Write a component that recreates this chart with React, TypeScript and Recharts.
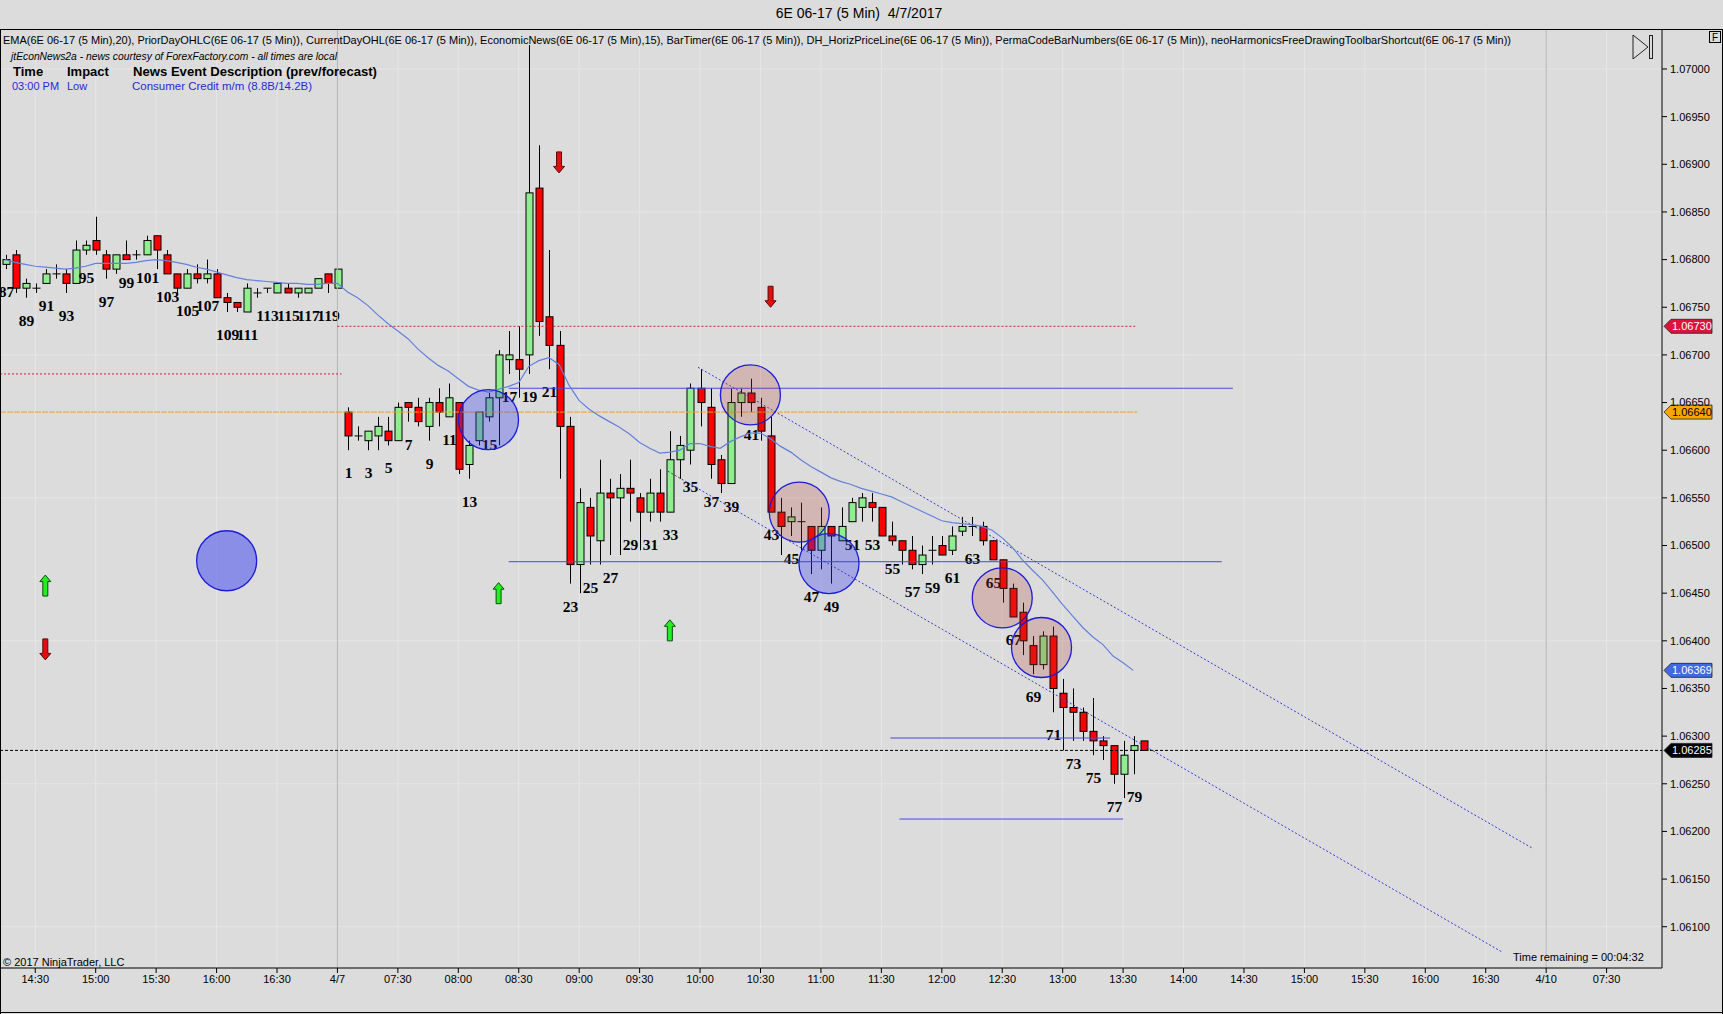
import React from 'react';
import {
  ComposedChart, Bar, Line, XAxis, YAxis, CartesianGrid,
  ReferenceLine, ReferenceDot, Scatter,
} from 'recharts';

// ---------------- data ----------------
const barNumbers = [
  87, 88, 89, 90, 91, 92, 93, 94, 95, 96, 97, 98, 99, 100, 101, 102, 103, 104, 105, 106,
  107, 108, 109, 110, 111, 112, 113, 114, 115, 116, 117, 118, 119, 120,
  1, 2, 3, 4, 5, 6, 7, 8, 9, 10, 11, 12, 13, 14, 15, 16, 17, 18, 19, 20,
  21, 22, 23, 24, 25, 26, 27, 28, 29, 30, 31, 32, 33, 34, 35, 36, 37, 38, 39, 40,
  41, 42, 43, 44, 45, 46, 47, 48, 49, 50, 51, 52, 53, 54, 55, 56, 57, 58, 59, 60,
  61, 62, 63, 64, 65, 66, 67, 68, 69, 70, 71, 72, 73, 74, 75, 76, 77, 78, 79, 80,
];

const opens = [
  1.06795, 1.06805, 1.06770, 1.06770, 1.06775, 1.06785, 1.06785, 1.06775, 1.06810, 1.06820,
  1.06805, 1.06790, 1.06805, 1.06805, 1.06805, 1.06825, 1.06805, 1.06785, 1.06770, 1.06785,
  1.06780, 1.06785, 1.06760, 1.06755, 1.06745, 1.06765, 1.06770, 1.06765, 1.06770, 1.06765,
  1.06765, 1.06770, 1.06785, 1.06770,
  1.06640, 1.06615, 1.06610, 1.06615, 1.06620, 1.06610, 1.06650, 1.06645, 1.06625, 1.06650,
  1.06635, 1.06650, 1.06585, 1.06610, 1.06635, 1.06655, 1.06695, 1.06695, 1.06700, 1.06875,
  1.06740, 1.06710, 1.06625, 1.06480, 1.06540, 1.06505, 1.06555, 1.06550, 1.06560, 1.06550,
  1.06535, 1.06555, 1.06535, 1.06590, 1.06600, 1.06665, 1.06645, 1.06590, 1.06565, 1.06650,
  1.06660, 1.06645, 1.06615, 1.06535, 1.06525, 1.06525, 1.06520, 1.06495, 1.06520, 1.06505,
  1.06525, 1.06540, 1.06545, 1.06540, 1.06510, 1.06505, 1.06495, 1.06480, 1.06495, 1.06500,
  1.06495, 1.06515, 1.06520, 1.06520, 1.06505, 1.06485, 1.06455, 1.06430, 1.06395, 1.06375,
  1.06405, 1.06345, 1.06330, 1.06325, 1.06305, 1.06295, 1.06290, 1.06260, 1.06285, 1.06295,
];

const highs = [
  1.06805, 1.06810, 1.06780, 1.06775, 1.06790, 1.06795, 1.06790, 1.06820, 1.06820, 1.06845,
  1.06810, 1.06805, 1.06820, 1.06810, 1.06825, 1.06825, 1.06810, 1.06785, 1.06790, 1.06795,
  1.06800, 1.06790, 1.06765, 1.06755, 1.06775, 1.06770, 1.06770, 1.06775, 1.06775, 1.06770,
  1.06770, 1.06780, 1.06785, 1.06790,
  1.06645, 1.06625, 1.06620, 1.06635, 1.06635, 1.06650, 1.06650, 1.06655, 1.06655, 1.06665,
  1.06670, 1.06650, 1.06610, 1.06640, 1.06660, 1.06705, 1.06725, 1.06730, 1.07025, 1.06920,
  1.06810, 1.06725, 1.06635, 1.06560, 1.06550, 1.06590, 1.06570, 1.06575, 1.06590, 1.06555,
  1.06570, 1.06580, 1.06620, 1.06615, 1.06670, 1.06685, 1.06665, 1.06595, 1.06665, 1.06665,
  1.06675, 1.06655, 1.06635, 1.06550, 1.06540, 1.06545, 1.06520, 1.06540, 1.06520, 1.06540,
  1.06550, 1.06555, 1.06555, 1.06540, 1.06525, 1.06505, 1.06510, 1.06500, 1.06510, 1.06510,
  1.06520, 1.06530, 1.06530, 1.06525, 1.06505, 1.06485, 1.06460, 1.06440, 1.06405, 1.06410,
  1.06415, 1.06360, 1.06350, 1.06330, 1.06340, 1.06300, 1.06290, 1.06295, 1.06300, 1.06295,
];

const lows = [
  1.06790, 1.06765, 1.06760, 1.06765, 1.06775, 1.06780, 1.06765, 1.06775, 1.06805, 1.06805,
  1.06780, 1.06785, 1.06800, 1.06800, 1.06805, 1.06790, 1.06785, 1.06765, 1.06770, 1.06775,
  1.06775, 1.06760, 1.06745, 1.06745, 1.06745, 1.06760, 1.06765, 1.06765, 1.06765, 1.06760,
  1.06765, 1.06770, 1.06765, 1.06770,
  1.06600, 1.06610, 1.06600, 1.06600, 1.06605, 1.06610, 1.06630, 1.06625, 1.06610, 1.06625,
  1.06635, 1.06575, 1.06570, 1.06605, 1.06630, 1.06605, 1.06680, 1.06655, 1.06680, 1.06720,
  1.06685, 1.06570, 1.06460, 1.06450, 1.06480, 1.06480, 1.06490, 1.06490, 1.06525, 1.06495,
  1.06525, 1.06525, 1.06535, 1.06570, 1.06585, 1.06625, 1.06570, 1.06555, 1.06565, 1.06635,
  1.06640, 1.06610, 1.06535, 1.06490, 1.06510, 1.06495, 1.06470, 1.06475, 1.06460, 1.06505,
  1.06525, 1.06525, 1.06525, 1.06510, 1.06500, 1.06480, 1.06475, 1.06470, 1.06480, 1.06490,
  1.06490, 1.06510, 1.06510, 1.06500, 1.06485, 1.06440, 1.06425, 1.06385, 1.06365, 1.06370,
  1.06325, 1.06285, 1.06295, 1.06295, 1.06280, 1.06275, 1.06250, 1.06235, 1.06260, 1.06285,
];

const closes = [
  1.06800, 1.06770, 1.06775, 1.06770, 1.06785, 1.06785, 1.06775, 1.06810, 1.06815, 1.06810,
  1.06790, 1.06805, 1.06800, 1.06805, 1.06820, 1.06810, 1.06785, 1.06770, 1.06785, 1.06780,
  1.06785, 1.06760, 1.06755, 1.06750, 1.06770, 1.06765, 1.06770, 1.06775, 1.06765, 1.06770,
  1.06770, 1.06780, 1.06775, 1.06790,
  1.06615, 1.06615, 1.06620, 1.06625, 1.06610, 1.06645, 1.06645, 1.06630, 1.06650, 1.06640,
  1.06655, 1.06580, 1.06605, 1.06640, 1.06655, 1.06700, 1.06700, 1.06685, 1.06870, 1.06735,
  1.06710, 1.06625, 1.06480, 1.06545, 1.06510, 1.06555, 1.06550, 1.06560, 1.06555, 1.06535,
  1.06555, 1.06535, 1.06590, 1.06605, 1.06665, 1.06650, 1.06585, 1.06565, 1.06650, 1.06660,
  1.06650, 1.06620, 1.06535, 1.06520, 1.06530, 1.06525, 1.06495, 1.06520, 1.06510, 1.06520,
  1.06545, 1.06550, 1.06540, 1.06510, 1.06505, 1.06495, 1.06480, 1.06490, 1.06495, 1.06490,
  1.06510, 1.06520, 1.06520, 1.06505, 1.06485, 1.06455, 1.06425, 1.06400, 1.06375, 1.06405,
  1.06350, 1.06330, 1.06325, 1.06305, 1.06295, 1.06290, 1.06260, 1.06280, 1.06290, 1.06285,
];

const emaValues: (number | null)[] = [
  1.06800, 1.06797, 1.06795, 1.06793, 1.06792, 1.06791, 1.06790, 1.06791, 1.06793, 1.06796,
  1.06796, 1.06796, 1.06796, 1.06797, 1.06799, 1.06800, 1.06799, 1.06797, 1.06795, 1.06792,
  1.06790, 1.06787, 1.06784, 1.06781, 1.06779, 1.06778, 1.06777, 1.06776, 1.06775, 1.06775,
  1.06774, 1.06774, 1.06775, 1.06775,
  1.06766, 1.06760, 1.06752, 1.06742, 1.06733, 1.06725, 1.06717, 1.06706, 1.06697, 1.06689,
  1.06683, 1.06675, 1.06667, 1.06663, 1.06661, 1.06664, 1.06667, 1.06671, 1.06688, 1.06694,
  1.06697, 1.06690, 1.06668, 1.06652, 1.06643, 1.06636, 1.06630, 1.06624, 1.06617, 1.06608,
  1.06602, 1.06597, 1.06598, 1.06600, 1.06607, 1.06607, 1.06604, 1.06602, 1.06609, 1.06614,
  1.06618, 1.06618, 1.06612, 1.06604, 1.06598, 1.06590, 1.06583, 1.06577, 1.06571, 1.06567,
  1.06564, 1.06560, 1.06557, 1.06554, 1.06551, 1.06546, 1.06541, 1.06536, 1.06531, 1.06526,
  1.06524, 1.06523, 1.06522, 1.06520, 1.06516, 1.06508, 1.06498, 1.06485, 1.06474, 1.06464,
  1.06451, 1.06438, 1.06426, 1.06414, 1.06404, 1.06396, 1.06384, 1.06377, 1.06369, null,
];

const xTickSlots = [3, 9, 15, 21, 27, 33, 39, 45, 51, 57, 63, 69, 75, 81, 87, 93, 99, 105, 111, 117, 123, 129, 135, 141, 147, 153, 159];
const xTickLabels = ['14:30', '15:00', '15:30', '16:00', '16:30', '4/7', '07:30', '08:00', '08:30', '09:00', '09:30', '10:00', '10:30', '11:00', '11:30', '12:00', '12:30', '13:00', '13:30', '14:00', '14:30', '15:00', '15:30', '16:00', '16:30', '4/10', '07:30'];
const yTickValues = [1.061, 1.0615, 1.062, 1.0625, 1.063, 1.0635, 1.064, 1.0645, 1.065, 1.0655, 1.066, 1.0665, 1.067, 1.0675, 1.068, 1.0685, 1.069, 1.0695, 1.07];
const gridPrices = [1.061, 1.0625, 1.064, 1.0655, 1.067, 1.0685, 1.07];
const daySeparators = [33, 153];

const levelLines = [
  { kind: 'prior', from: -0.5, to: 33.4, price: 1.0668 },
  { kind: 'prior', from: 33, to: 112.2, price: 1.0673 },
  { kind: 'open', from: -0.5, to: 112.4, price: 1.0664 },
  { kind: 'horiz', from: 50, to: 121.9, price: 1.06665 },
  { kind: 'horiz', from: 50, to: 120.8, price: 1.06483 },
  { kind: 'horiz', from: 87.9, to: 109.7, price: 1.06298 },
  { kind: 'horiz', from: 88.8, to: 111, price: 1.06213 },
  { kind: 'last', from: -0.5, to: 164.5, price: 1.06285 },
];

const channelLines = [
  { from: 68.8, fromPrice: 1.06687, to: 151.7, toPrice: 1.06182 },
  { from: 65.8, fromPrice: 1.06578, to: 148.7, toPrice: 1.06073 },
];

const circleMarks = [
  { kind: 'blueSolo', slot: 22, price: 1.06484 },
  { kind: 'blue', slot: 48, price: 1.06632 },
  { kind: 'pink', slot: 74, price: 1.06658 },
  { kind: 'pink', slot: 78.85, price: 1.06535 },
  { kind: 'blue', slot: 81.8, price: 1.06481 },
  { kind: 'pink', slot: 99, price: 1.06445 },
  { kind: 'pink', slot: 102.9, price: 1.06393 },
];

const upArrows = [
  { slot: 4, price: 1.06458 },
  { slot: 49, price: 1.0645 },
  { slot: 66, price: 1.06411 },
];
const downArrows = [
  { slot: 4, price: 1.06391 },
  { slot: 55, price: 1.06902 },
  { slot: 76, price: 1.06761 },
];

const priceTags = [
  { kind: 'prior', price: 1.0673 },
  { kind: 'open', price: 1.0664 },
  { kind: 'ema', price: 1.06369 },
  { kind: 'last', price: 1.06285 },
];

const rows = barNumbers.map((num, i) => ({
  slot: i,
  num,
  open: opens[i],
  high: highs[i],
  low: lows[i],
  close: closes[i],
  range: [lows[i], highs[i]],
  ema: emaValues[i],
}));

// ---------------- styling ----------------
const W = 1723;
const H = 1014;
const BG = '#dcdcdc';
const SANS = "'Liberation Sans', Arial, sans-serif";
const SERIF = "'Liberation Serif', 'Times New Roman', serif";
const X_DOMAIN: [number, number] = [-0.5, 164.5];
const Y_DOMAIN: [number, number] = [1.060567, 1.070409];

const lineStyle: Record<string, { stroke: string; dash?: string; width: number }> = {
  prior: { stroke: '#d0203c', dash: '2 2', width: 1 },
  open: { stroke: '#f0a020', dash: '6 1', width: 1 },
  horiz: { stroke: '#4848e8', width: 1 },
  last: { stroke: '#000000', dash: '3 2', width: 1 },
};

const circleStyle: Record<string, { fill: string; opacity: number }> = {
  blueSolo: { fill: '#3038f0', opacity: 0.48 },
  blue: { fill: '#3038f0', opacity: 0.32 },
  pink: { fill: '#b04038', opacity: 0.24 },
};

const tagStyle: Record<string, { bg: string; fg: string }> = {
  prior: { bg: '#dc143c', fg: '#ffffff' },
  open: { bg: '#ffa500', fg: '#000000' },
  ema: { bg: '#4169e1', fg: '#ffffff' },
  last: { bg: '#000000', fg: '#ffffff' },
};

const Candle = (props: any) => {
  const { x, y, width, height, payload } = props;
  if (!payload || x == null || y == null) return <g />;
  const { open, high, low, close, num } = payload;
  const top = Math.min(y, y + height);
  const bot = Math.max(y, y + height);
  const span = high - low;
  const py = (p: number) => (span > 0 ? top + ((high - p) / span) * (bot - top) : top);
  const cx = Math.round(x + width / 2) + 0.5;
  const bTop = py(Math.max(open, close));
  const bBot = py(Math.min(open, close));
  const up = close >= open;
  return (
    <g>
      <line x1={cx} x2={cx} y1={top} y2={bot} stroke="#000" strokeWidth={1} />
      {open === close ? (
        <line x1={cx - 4} x2={cx + 4} y1={bTop} y2={bTop} stroke="#000" strokeWidth={1} />
      ) : (
        <rect x={cx - 3.5} y={bTop} width={7} height={Math.max(1, bBot - bTop)}
          fill={up ? '#90ee90' : '#ff0000'} stroke="#000" strokeWidth={1} />
      )}
      {num % 2 === 1 && (
        <text x={cx} y={bot + 28} textAnchor="middle" fontFamily={SERIF}
          fontWeight="bold" fontSize={15.5} fill="#000">{num}</text>
      )}
    </g>
  );
};

const UpArrow = (props: any) => {
  const { cx, cy } = props;
  if (cx == null) return <g />;
  const d = `M${cx},${cy - 10.5} L${cx + 5.5},${cy - 4} L${cx + 2.5},${cy - 4} L${cx + 2.5},${cy + 10.5} L${cx - 2.5},${cy + 10.5} L${cx - 2.5},${cy - 4} L${cx - 5.5},${cy - 4} Z`;
  return <path d={d} fill="#22ee22" stroke="#0b4d0b" strokeWidth={1} />;
};

const DownArrow = (props: any) => {
  const { cx, cy } = props;
  if (cx == null) return <g />;
  const d = `M${cx},${cy + 10.5} L${cx + 5.5},${cy + 4} L${cx + 2.5},${cy + 4} L${cx + 2.5},${cy - 10.5} L${cx - 2.5},${cy - 10.5} L${cx - 2.5},${cy + 4} L${cx - 5.5},${cy + 4} Z`;
  return <path d={d} fill="#e01010" stroke="#5a0a0a" strokeWidth={1} />;
};

const makeTag = (kind: string, price: number) => (props: any) => {
  const { cx, cy } = props;
  if (cx == null) return <g />;
  const s = tagStyle[kind];
  const d = `M${cx + 2},${cy} L${cx + 9},${cy - 7} L${cx + 50},${cy - 7} L${cx + 50},${cy + 7} L${cx + 9},${cy + 7} Z`;
  return (
    <g>
      <path d={d} fill={s.bg} stroke="#222" strokeWidth={0.8} />
      <text x={cx + 10} y={cy + 4} fontFamily={SANS} fontSize={11} fill={s.fg}>{price.toFixed(5)}</text>
    </g>
  );
};

export default function App() {
  return (
    <div style={{ position: 'relative', width: W, height: H, background: BG, overflow: 'hidden' }}>
      <style>{'body{margin:0;background:#dcdcdc;}'}</style>
      <ComposedChart
        width={W}
        height={H}
        data={rows}
        margin={{ top: 30, right: 0, bottom: 2, left: 0 }}
        style={{ position: 'absolute', left: 0, top: 0 }}
      >
        <CartesianGrid stroke="#e6e6e6" strokeWidth={1} horizontalValues={gridPrices} />
        <XAxis
          type="number"
          dataKey="slot"
          domain={X_DOMAIN}
          allowDataOverflow
          ticks={xTickSlots}
          interval={0}
          height={44}
          tickSize={5}
          tickMargin={2}
          axisLine={{ stroke: '#000' }}
          tickLine={{ stroke: '#000' }}
          tick={{ fill: '#000', fontSize: 11, fontFamily: SANS }}
          tickFormatter={(v: number) => xTickLabels[xTickSlots.indexOf(v)] ?? ''}
        />
        <YAxis
          orientation="right"
          type="number"
          domain={Y_DOMAIN}
          allowDataOverflow
          ticks={yTickValues}
          interval={0}
          width={61}
          tickSize={5}
          tickMargin={3}
          axisLine={{ stroke: '#000' }}
          tickLine={{ stroke: '#000' }}
          tick={{ fill: '#000', fontSize: 11, fontFamily: SANS, textAnchor: 'start' }}
          tickFormatter={(v: number) => v.toFixed(5)}
        />
        {daySeparators.map((s) => (
          <ReferenceLine key={'sep' + s} x={s} stroke="#b4b4b4" strokeWidth={1} ifOverflow="visible" />
        ))}
        {levelLines.map((l, i) => (
          <ReferenceLine
            key={'lvl' + i}
            segment={[{ x: l.from, y: l.price }, { x: l.to, y: l.price }]}
            stroke={lineStyle[l.kind].stroke}
            strokeDasharray={lineStyle[l.kind].dash}
            strokeWidth={lineStyle[l.kind].width}
            ifOverflow="visible"
          />
        ))}
        {channelLines.map((c, i) => (
          <ReferenceLine
            key={'ch' + i}
            segment={[{ x: c.from, y: c.fromPrice }, { x: c.to, y: c.toPrice }]}
            stroke="#3a3ae0"
            strokeDasharray="2 2"
            strokeWidth={1}
            ifOverflow="visible"
          />
        ))}
        <Bar dataKey="range" barSize={7} shape={Candle} isAnimationActive={false} />
        <Line
          dataKey="ema"
          type="linear"
          stroke="#6480dc"
          strokeWidth={1.2}
          dot={false}
          activeDot={false}
          isAnimationActive={false}
        />
        {circleMarks.map((c, i) => (
          <ReferenceDot
            key={'c' + i}
            x={c.slot}
            y={c.price}
            r={30}
            fill={circleStyle[c.kind].fill}
            fillOpacity={circleStyle[c.kind].opacity}
            stroke="#1c1cd8"
            strokeWidth={1.3}
            ifOverflow="visible"
          />
        ))}
        <Scatter data={upArrows} dataKey="price" shape={UpArrow} isAnimationActive={false} />
        <Scatter data={downArrows} dataKey="price" shape={DownArrow} isAnimationActive={false} />
        {priceTags.map((t, i) => (
          <ReferenceDot
            key={'t' + i}
            x={X_DOMAIN[1]}
            y={t.price}
            r={1}
            shape={makeTag(t.kind, t.price)}
            ifOverflow="visible"
          />
        ))}
      </ComposedChart>
      <svg width={W} height={H} style={{ position: 'absolute', left: 0, top: 0, pointerEvents: 'none' }}>
        <line x1={0} x2={W} y1={29.5} y2={29.5} stroke="#000" />
        <line x1={0.5} x2={0.5} y1={29} y2={H} stroke="#000" />
        <line x1={W - 0.5} x2={W - 0.5} y1={29} y2={H} stroke="#000" />
        <line x1={0} x2={W} y1={H - 1.5} y2={H - 1.5} stroke="#000" />
        <text x={859} y={18} textAnchor="middle" fontFamily={SANS} fontSize={14} fill="#000"
          style={{ whiteSpace: 'pre' }}>{'6E 06-17 (5 Min)  4/7/2017'}</text>
        <text x={3} y={44} fontFamily={SANS} fontSize={11} fill="#000" textLength={1508} lengthAdjust="spacingAndGlyphs">
          EMA(6E 06-17 (5 Min),20), PriorDayOHLC(6E 06-17 (5 Min)), CurrentDayOHL(6E 06-17 (5 Min)), EconomicNews(6E 06-17 (5 Min),15), BarTimer(6E 06-17 (5 Min)), DH_HorizPriceLine(6E 06-17 (5 Min)), PermaCodeBarNumbers(6E 06-17 (5 Min)), neoHarmonicsFreeDrawingToolbarShortcut(6E 06-17 (5 Min))
        </text>
        <text x={11} y={60} fontFamily={SANS} fontSize={10} fontStyle="italic" fill="#000" textLength={326} lengthAdjust="spacingAndGlyphs">
          jtEconNews2a - news courtesy of ForexFactory.com - all times are local
        </text>
        <text x={13} y={75.5} fontFamily={SANS} fontSize={13} fontWeight="bold" fill="#000">Time</text>
        <text x={67} y={75.5} fontFamily={SANS} fontSize={13} fontWeight="bold" fill="#000">Impact</text>
        <text x={133} y={75.5} fontFamily={SANS} fontSize={13} fontWeight="bold" fill="#000" textLength={244} lengthAdjust="spacingAndGlyphs">
          News Event Description (prev/forecast)
        </text>
        <text x={12} y={90} fontFamily={SANS} fontSize={11} fill="#2828d8">03:00 PM</text>
        <text x={67} y={90} fontFamily={SANS} fontSize={11} fill="#2828d8">Low</text>
        <text x={132} y={90} fontFamily={SANS} fontSize={11} fill="#2828d8" textLength={180} lengthAdjust="spacingAndGlyphs">
          Consumer Credit m/m (8.8B/14.2B)
        </text>
        <text x={3} y={966} fontFamily={SANS} fontSize={11} fill="#000">© 2017 NinjaTrader, LLC</text>
        <text x={1513} y={961} fontFamily={SANS} fontSize={11} fill="#000">Time remaining = 00:04:32</text>
        <rect x={1709.5} y={31.5} width={11} height={11} fill="none" stroke="#000" />
        <text x={1715} y={41} textAnchor="middle" fontFamily={SANS} fontSize={10} fill="#000">F</text>
        <path d="M1633,35 L1648,47 L1633,59 Z" fill="none" stroke="#222" strokeWidth={1} />
        <rect x={1649.5} y={35.5} width={3} height={23} fill="none" stroke="#222" strokeWidth={1} />
      </svg>
    </div>
  );
}
